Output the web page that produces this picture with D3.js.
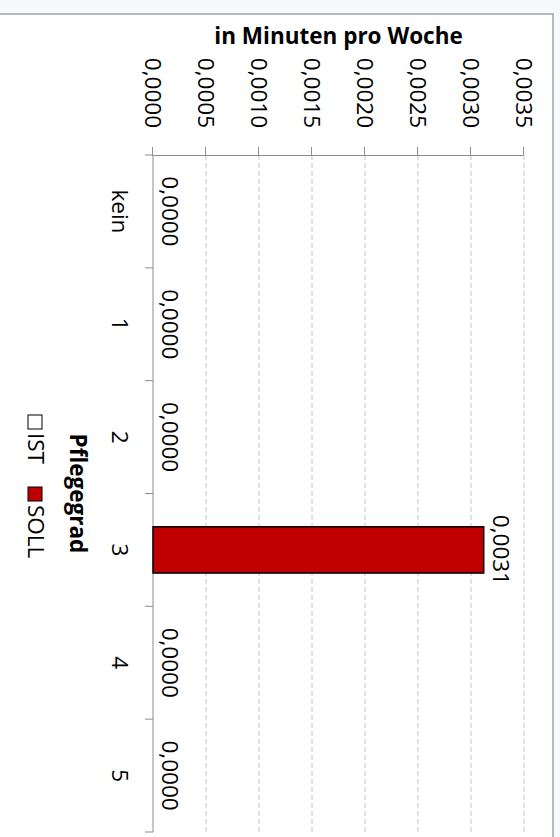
<!DOCTYPE html>
<html>
<head>
<meta charset="utf-8">
<script src="https://cdn.jsdelivr.net/npm/d3@7"></script>
<style>
    body { margin: 0; background: #f7f9fc; }
    svg { display: block; }
    text { font-family: "Open Sans", sans-serif; fill: #000; }
</style>
</head>
<body>
<div id="main"></div>
<script>
var ctx = {
    w: 560,
    h: 837,
    fs: "22.5px",
};

// chart values
var categories = ["kein", "1", "2", "3", "4", "5"];
var istValues = [0, 0, 0, 0, 0, 0];
var sollValues = [0, 0, 0, 0.00312, 0, 0];
var valueTicks = [0, 0.0005, 0.001, 0.0015, 0.002, 0.0025, 0.003, 0.0035];
var seriesNames = ["IST", "SOLL"];

var fmt = function (d) {
    return d.toFixed(4).replace(".", ",");
};

var createViz = function () {
    var svg = d3.select("#main").append("svg")
        .attr("width", ctx.w)
        .attr("height", ctx.h);

    svg.append("rect")
        .attr("width", ctx.w).attr("height", ctx.h)
        .attr("fill", "#f7f9fc");

    // the whole chart is a column chart turned 90deg clockwise
    // frame: u along screen y, v = 560 - screen x
    var g = svg.append("g").attr("transform", "translate(" + ctx.w + ",0) rotate(90)");

    g.append("rect")
        .attr("x", 14).attr("y", 7)
        .attr("width", 900).attr("height", 700)
        .attr("fill", "#fff")
        .style("stroke", "#a3a3a3")
        .style("stroke-width", 1.5);

    var y = d3.scaleLinear().domain([0, 0.0035]).range([407, 36]);
    var x = d3.scaleBand().domain(categories).range([155, 832]).padding(0);

    // grid
    g.append("g")
        .selectAll("line")
        .data(valueTicks.slice(1))
        .enter()
        .append("line")
        .attr("x1", 155).attr("x2", 832)
        .attr("y1", function (d) { return y(d); })
        .attr("y2", function (d) { return y(d); })
        .style("stroke", "#c4c4c4")
        .style("stroke-dasharray", "5,3");

    // value axis
    var yAxis = g.append("g")
        .attr("transform", "translate(155,0)")
        .call(d3.axisLeft(y).tickValues(valueTicks).tickSize(8).tickSizeOuter(0).tickPadding(19).tickFormat(fmt));
    yAxis.selectAll("path, line").style("stroke", "#8c8c8c");
    yAxis.selectAll("text").style("font-size", ctx.fs).attr("fill", "#000");

    // category axis
    var xAxis = g.append("g")
        .attr("transform", "translate(0,407)")
        .call(d3.axisBottom(x).tickSize(0).tickPadding(25));
    xAxis.select("path").remove();
    xAxis.selectAll("text").style("font-size", ctx.fs).attr("fill", "#000");

    g.append("line")
        .attr("x1", 155).attr("x2", 832)
        .attr("y1", 407).attr("y2", 407)
        .style("stroke", "#8c8c8c");

    var bounds = categories.map(function (c) { return x(c); }).concat([x.range()[1]]);
    g.append("g")
        .selectAll("line")
        .data(bounds)
        .enter()
        .append("line")
        .attr("x1", function (d) { return d; })
        .attr("x2", function (d) { return d; })
        .attr("y1", 407).attr("y2", 415)
        .style("stroke", "#8c8c8c");

    // bars
    var barW = x.bandwidth() * 0.41;
    var rows = categories.map(function (c, i) {
        return { cat: c, ist: istValues[i], soll: sollValues[i] };
    });

    g.append("g")
        .selectAll("rect")
        .data(rows.filter(function (d) { return d.ist > 0; }))
        .enter()
        .append("rect")
        .attr("x", function (d) { return x(d.cat) + (x.bandwidth() - barW) / 2; })
        .attr("width", barW)
        .attr("y", function (d) { return y(d.ist); })
        .attr("height", function (d) { return y(0) - y(d.ist); })
        .attr("fill", "#fff")
        .style("stroke", "#000")
        .style("stroke-width", 1.5);

    g.append("g")
        .selectAll("rect")
        .data(rows.filter(function (d) { return d.soll > 0; }))
        .enter()
        .append("rect")
        .attr("x", function (d) { return x(d.cat) + (x.bandwidth() - barW) / 2; })
        .attr("width", barW)
        .attr("y", function (d) { return y(d.soll); })
        .attr("height", function (d) { return y(0) - y(d.soll); })
        .attr("fill", "#c00000")
        .style("stroke", "#000")
        .style("stroke-width", 1.5);

    // value labels
    g.append("g")
        .selectAll("text")
        .data(rows)
        .enter()
        .append("text")
        .attr("x", function (d) { return x(d.cat) + x.bandwidth() / 2; })
        .attr("y", function (d) { return y(d.soll) - 9; })
        .attr("text-anchor", "middle")
        .style("font-size", ctx.fs)
        .text(function (d) { return fmt(d.soll); });

    // axis titles
    g.append("text")
        .attr("transform", "translate(44," + (y(0) + y(0.0035)) / 2 + ") rotate(-90)")
        .attr("text-anchor", "middle")
        .style("font-size", ctx.fs)
        .style("font-weight", "bold")
        .text("in Minuten pro Woche");

    g.append("text")
        .attr("x", (x.range()[0] + x.range()[1]) / 2)
        .attr("y", 490)
        .attr("text-anchor", "middle")
        .style("font-size", ctx.fs)
        .style("font-weight", "bold")
        .text("Pflegegrad");

    // legend
    var legendX = [415, 487];
    var legendFill = ["#fff", "#c00000"];
    var leg = g.append("g")
        .selectAll("g")
        .data(seriesNames)
        .enter()
        .append("g")
        .attr("transform", function (d, i) { return "translate(" + legendX[i] + ",518)"; });
    leg.append("rect")
        .attr("width", 14).attr("height", 14)
        .attr("fill", function (d, i) { return legendFill[i]; })
        .style("stroke", "#000")
        .style("stroke-width", 1);
    leg.append("text")
        .attr("x", 18).attr("y", 14)
        .style("font-size", ctx.fs)
        .text(function (d) { return d; });
};

createViz();
</script>
</body>
</html>
